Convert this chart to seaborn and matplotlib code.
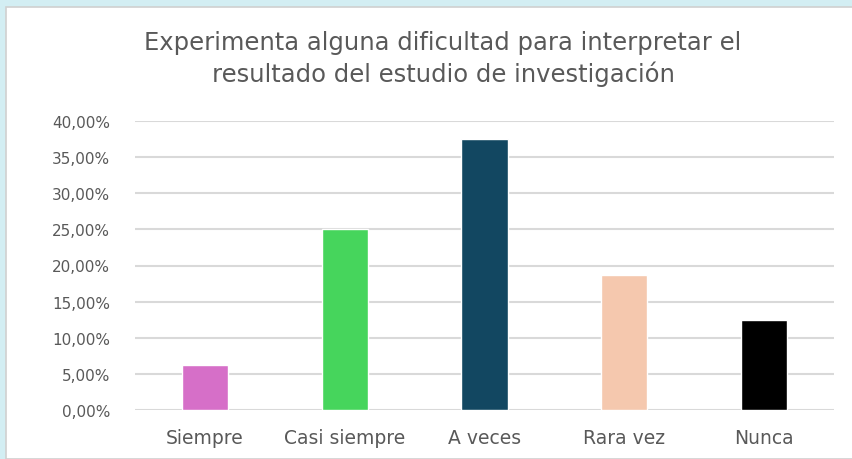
import matplotlib
matplotlib.use("Agg")
import matplotlib.pyplot as plt
import seaborn as sns
import pandas as pd
from matplotlib.ticker import FuncFormatter, MultipleLocator
from matplotlib.patches import Rectangle

categorias = ["Siempre", "Casi siempre", "A veces", "Rara vez", "Nunca"]
porcentajes = [0.0625, 0.25, 0.375, 0.1875, 0.125]
colores = ["#d66fc8", "#46d55c", "#124761", "#f5c8ae", "#000000"]
titulo = "Experimenta alguna dificultad para interpretar el\nresultado del estudio de investigación"

df = pd.DataFrame({"Respuesta": categorias, "Porcentaje": porcentajes})

sns.set_style("white")
plt.rcParams['font.family'] = ['DejaVu Sans']

fig = plt.figure(figsize=(8.53, 4.6), dpi=100)
# chart frame and top band
fig.patches.append(Rectangle((0, 0), 1, 1, transform=fig.transFigure,
                             facecolor="#d3eef3", edgecolor="none", zorder=-3))
fig.patches.append(Rectangle((6 / 853, 0), 1, 1 - 8 / 460, transform=fig.transFigure,
                             facecolor="white", edgecolor="#d0d0d0", linewidth=1.2, zorder=-2))

ax = fig.add_axes([135 / 853, 1 - 411 / 460, (834 - 135) / 853, (411 - 122) / 460])
ax.set_facecolor("none")

sns.barplot(data=df, x="Respuesta", y="Porcentaje", hue="Respuesta", palette=colores,
            width=0.33, legend=False, ax=ax, zorder=3, saturation=1)

ax.set_ylim(0, 0.40)
ax.yaxis.set_major_locator(MultipleLocator(0.05))
ax.yaxis.set_major_formatter(FuncFormatter(lambda v, p: f"{v * 100:.2f}%".replace(".", ",")))
ax.grid(axis="y", color="#d9d9d9", linewidth=1.5, zorder=0)
ax.set_axisbelow(True)
for s in ax.spines.values():
    s.set_visible(False)
ax.set_xlabel("")
ax.set_ylabel("")
ax.tick_params(axis="both", length=0, colors="#595959")
ax.tick_params(axis="y", pad=18, labelsize=11)
ax.tick_params(axis="x", pad=13, labelsize=13.5)

fig.text(443 / 853, 1 - 59 / 460, titulo, ha="center", va="center", fontsize=17.5,
         color="#595959", linespacing=1.3)

fig.savefig("out.png", dpi=100)
